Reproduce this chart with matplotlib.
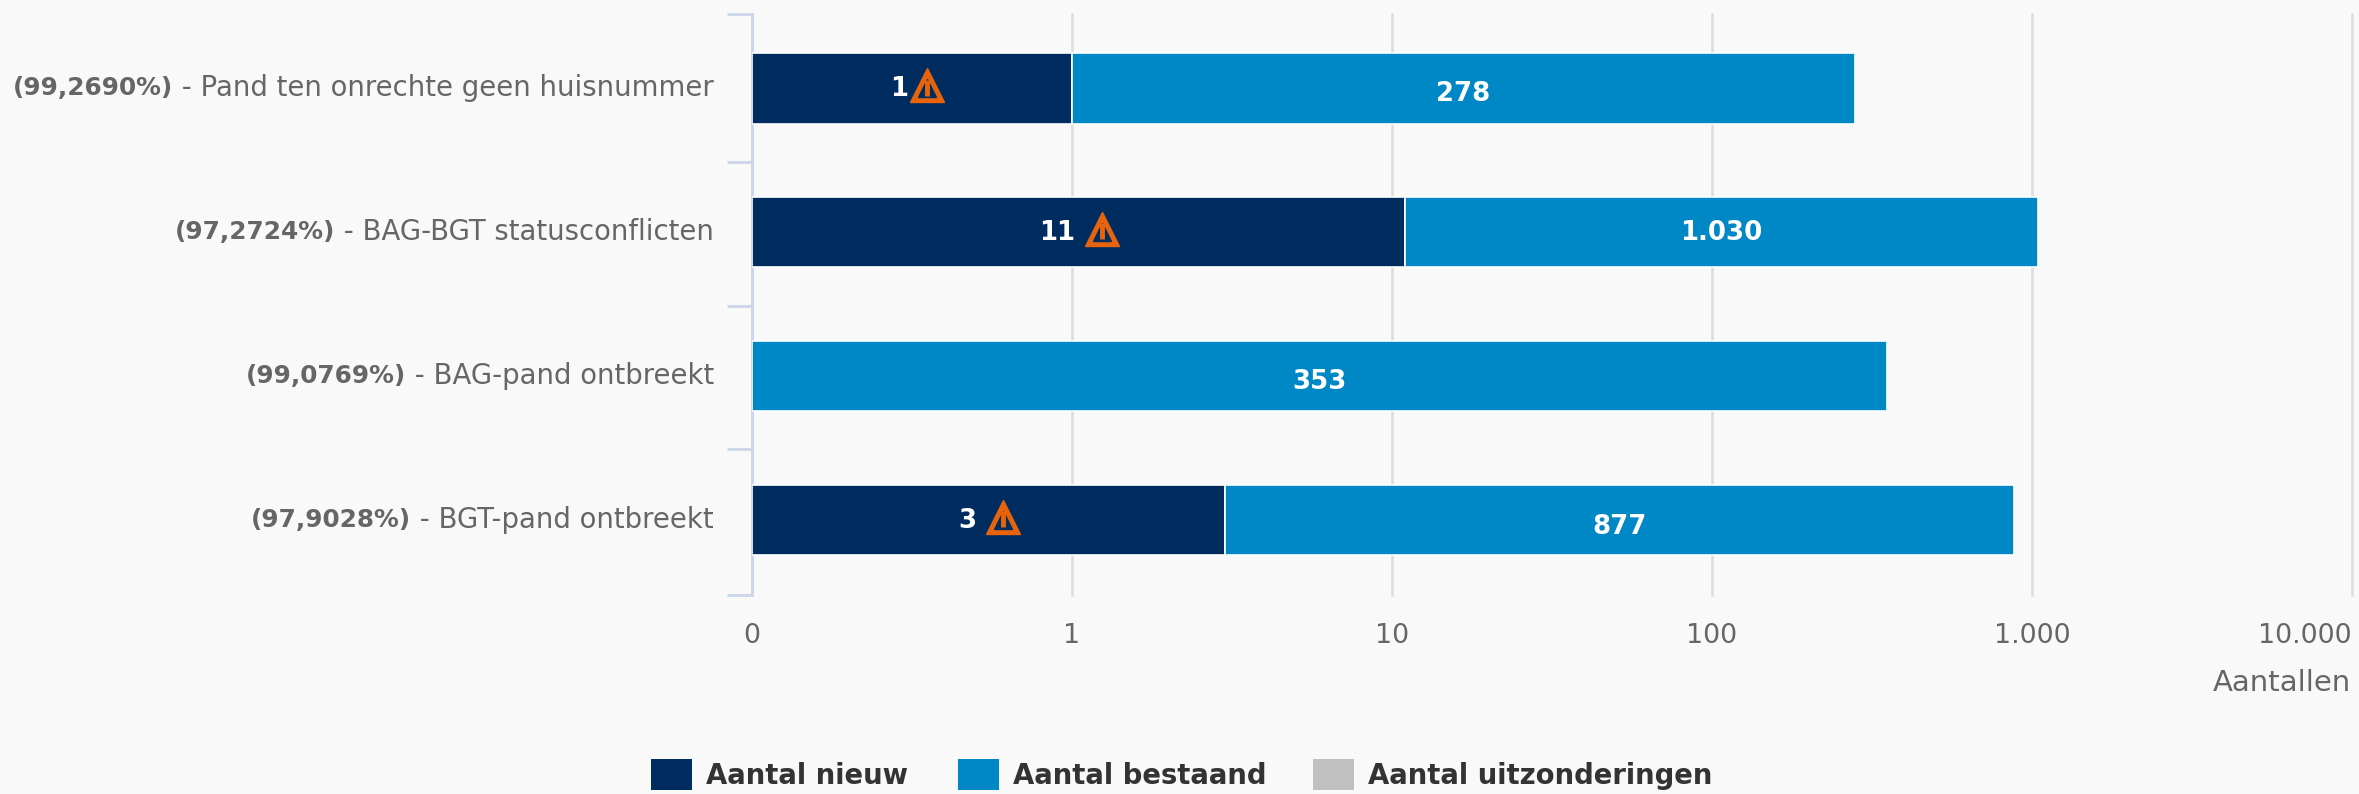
import matplotlib
matplotlib.use("Agg")
import matplotlib.pyplot as plt
from matplotlib.transforms import offset_copy

W, H = 2359, 794

categories = ["Pand ten onrechte geen huisnummer", "BAG-BGT statusconflicten",
              "BAG-pand ontbreekt", "BGT-pand ontbreekt"]
percentages = ["99,2690", "97,2724", "99,0769", "97,9028"]
nieuw = [1, 11, 0, 3]
bestaand = [278, 1030, 353, 877]
uitzonderingen = [0, 0, 0, 0]
nieuw_labels = ["1", "11", "", "3"]
bestaand_labels = ["278", "1.030", "353", "877"]
xticks = [0.1, 1, 10, 100, 1000, 10000]
xticklabels = ["0", "1", "10", "100", "1.000", "10.000"]

DARK = "#002c5f"
BLUE = "#0088c6"
GREY = "#c0c0c0"
ORANGE = "#e8640c"
BG = "#f9f9f9"
TEXT = "#666666"
AXIS = "#ccd6eb"
GRID = "#e0e0e0"

# pixel offsets from the bar centre: (number, warning icon)
icon_offsets = [(-13, 15), (-21, 23), None, (-21, 15)]
# vertical pixel shift of the value labels inside the blue bars
label_shift = [-6, -1, -6, -7]

plt.rcParams["font.family"] = ["DejaVu Sans"]

fig = plt.figure(figsize=(W / 100, H / 100), dpi=100, facecolor=BG)
ax = fig.add_axes([752 / W, 1 - 595 / H, (2352 - 752) / W, (595 - 14) / H], facecolor=BG)
ax.set_xscale("log")
ax.set_xlim(0.1, 10000)
ax.set_ylim(3.523, -0.517)

ys = range(len(categories))
for y, n, b, u in zip(ys, nieuw, bestaand, uitzonderingen):
    start = n if n > 0 else 0.1
    if n > 0:
        ax.barh(y, n - 0.1, left=0.1, height=0.49, color=DARK, edgecolor="white", linewidth=1.2, zorder=3)
    ax.barh(y, n + b - start, left=start, height=0.49, color=BLUE, edgecolor="white", linewidth=1.2, zorder=3)

ax.grid(axis="x", which="major", color=GRID, linewidth=2, zorder=0, clip_on=False)
ax.minorticks_off()
ax.set_xticks(xticks)
ax.set_xticklabels(xticklabels, fontsize=19.4, color=TEXT)
ax.xaxis.get_majorticklabels()[-1].set_ha("right")
ax.tick_params(axis="x", length=0, pad=20)

ax.set_yticks([-0.517, 0.51, 1.51, 2.51, 3.523])
ax.set_yticklabels([])
ax.tick_params(axis="y", length=18, width=2, color=AXIS)
for s in ["top", "right", "bottom"]:
    ax.spines[s].set_visible(False)
ax.spines["left"].set_color(AXIS)
ax.spines["left"].set_linewidth(2)

fig.canvas.draw()
renderer = fig.canvas.get_renderer()

# category labels, normal part then the bold percentage in front of it
for y, cat, pct in zip(ys, categories, percentages):
    trans = offset_copy(ax.get_yaxis_transform(), fig=fig, x=-38, y=0, units="dots")
    t = ax.text(0, y, " - " + cat, transform=trans, ha="right", va="center",
                fontsize=19.8, color=TEXT)
    box = t.get_window_extent(renderer)
    fig.text(box.x0 / W, (box.y0 + box.y1) / 2 / H, "(" + pct + "%)", ha="right", va="center",
             fontsize=17.8, fontweight="bold", color=TEXT)

for y, n, b, nl, bl, off, dy in zip(ys, nieuw, bestaand, nieuw_labels, bestaand_labels, icon_offsets, label_shift):
    start = n if n > 0 else 0.1
    mid_b = (start * (n + b)) ** 0.5
    ax.annotate(bl, (mid_b, y), xytext=(0, dy), textcoords="offset pixels", ha="center", va="center",
                fontsize=18.7, fontweight="bold", color="white", zorder=5)
    if off is None:
        continue
    mid_n = (0.1 * n) ** 0.5
    ax.annotate(nl, (mid_n, y), xytext=(off[0], -1), textcoords="offset pixels", ha="center", va="center",
                fontsize=18.7, fontweight="bold", color="white", zorder=5)
    tr = offset_copy(ax.transData, fig=fig, x=off[1], y=3, units="dots")
    ax.plot([mid_n], [y], marker="^", ms=24, mfc=ORANGE, mec=ORANGE, transform=tr, zorder=5)
    ax.plot([mid_n], [y + 0.02], marker="^", ms=13, mfc=DARK, mec=DARK, transform=tr, zorder=6)
    ax.plot([mid_n], [y + 0.015], marker="|", ms=11, mew=3.5, color=ORANGE, transform=tr, zorder=7)

fig.text(2351 / W, 1 - 683 / H, "Aantallen", ha="right", va="center", fontsize=21, color=TEXT)

# legend, built as a fixed row under the chart
legend_items = [("Aantal nieuw", DARK, 651), ("Aantal bestaand", BLUE, 958), ("Aantal uitzonderingen", GREY, 1313)]
for name, color, x0 in legend_items:
    fig.patches.append(plt.Rectangle((x0 / W, 1 - 790 / H), 41 / W, 31 / H, transform=fig.transFigure,
                                     facecolor=color, edgecolor="none", figure=fig))
    fig.text((x0 + 55) / W, 1 - 776 / H, name, ha="left", va="center", fontsize=19.8,
             fontweight="bold", color="#333333")

fig.savefig("out.png", dpi=100, facecolor=BG)
